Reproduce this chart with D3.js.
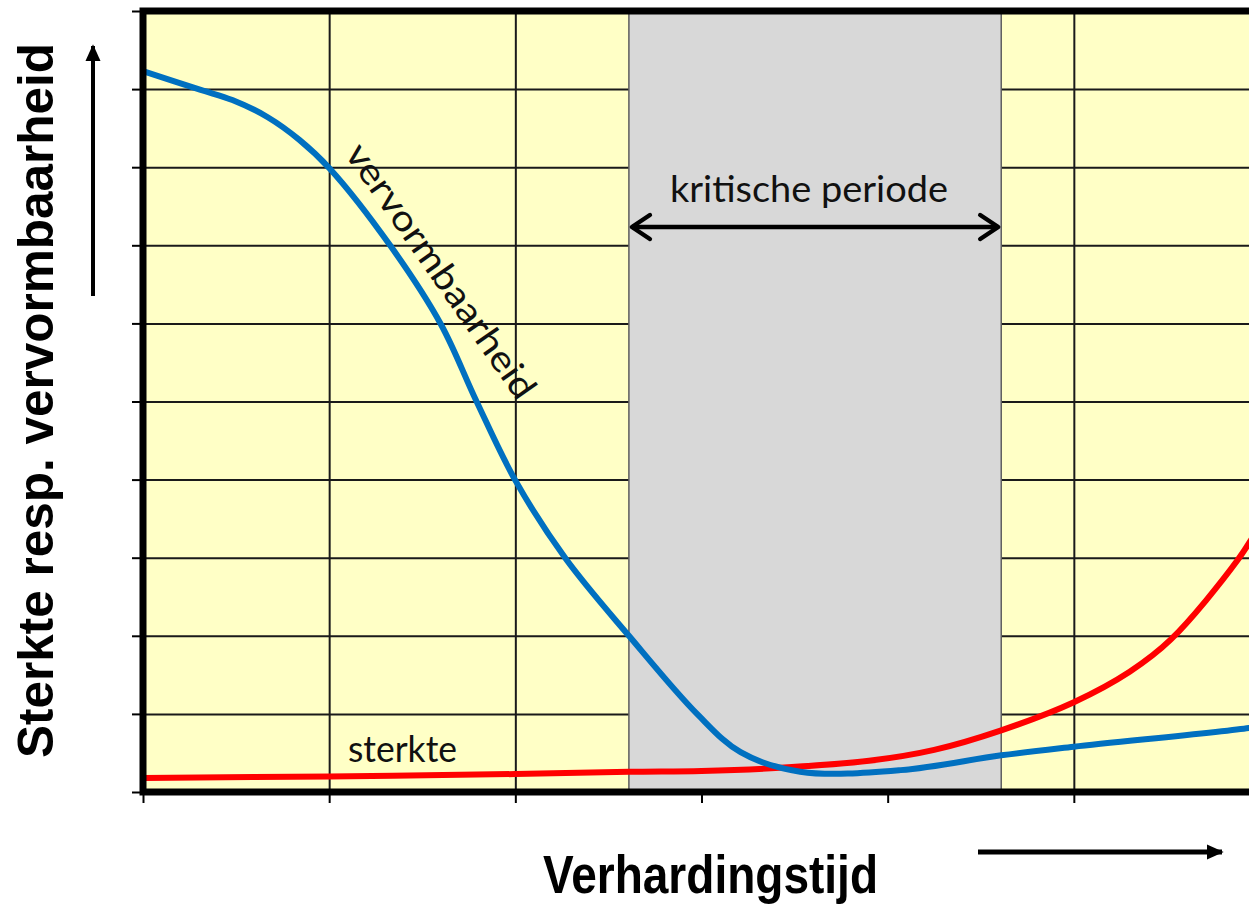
<!DOCTYPE html>
<html>
<head>
<meta charset="utf-8">
<script src="https://cdn.jsdelivr.net/npm/d3@7"></script>
<style>
  html, body { margin: 0; padding: 0; background: #fff; }
  svg { display: block; }
</style>
</head>
<body>
<svg id="chart" width="1249" height="906"></svg>
<script>
// ---- data (x: hardening time units 0..6, y: value units 0..10) ----
const xTicks = [0, 1, 2, 3, 4, 5, 6];
const yTicks = [0, 1, 2, 3, 4, 5, 6, 7, 8, 9, 10];
const criticalPeriod = [2.61, 4.61];

const vervormX = [0, 0.31, 0.48, 0.67, 0.84, 1.0, 1.33, 1.6, 1.79, 2.0, 2.27, 2.61, 2.98, 3.21, 3.53, 4.07, 4.61, 5.0, 5.94, 6.0];
const vervormY = [9.23, 8.99, 8.86, 8.64, 8.35, 7.99, 6.99, 5.99, 5.01, 3.99, 2.99, 2.0, 0.99, 0.51, 0.26, 0.28, 0.47, 0.58, 0.82, 0.85];

const sterkteX = [0, 1.0, 2.0, 2.61, 3.0, 3.42, 3.9, 4.25, 4.61, 5.0, 5.3, 5.52, 5.88, 6.0];
const sterkteY = [0.18, 0.2, 0.23, 0.26, 0.27, 0.31, 0.40, 0.54, 0.79, 1.15, 1.54, 1.95, 2.97, 3.42];

const labels = {
  yTitle: "Sterkte resp. vervormbaarheid",
  xTitle: "Verhardingstijd",
  period: "kritische periode",
  vervorm: "vervormbaarheid",
  sterkte: "sterkte"
};

// ---- drawing ----
const svg = d3.select("#chart");
const x = d3.scaleLinear().domain([0, 6]).range([143, 1260]);
const y = d3.scaleLinear().domain([0, 10]).range([792, 11]);
const [x0, x1] = x.range();
const [yb, yt] = y.range();

// plot background
svg.append("rect")
  .attr("x", x0).attr("y", yt).attr("width", x1 - x0).attr("height", yb - yt)
  .attr("fill", "#ffffc6");

// grid
svg.append("g")
  .attr("transform", `translate(0,${yb})`)
  .call(d3.axisBottom(x).tickValues(xTicks).tickSize(-(yb - yt)).tickFormat(""))
  .call(g => g.select(".domain").remove())
  .call(g => g.selectAll("line").attr("stroke", "#1a1a1a").attr("stroke-width", 2));
svg.append("g")
  .attr("transform", `translate(${x0},0)`)
  .call(d3.axisLeft(y).tickValues(yTicks).tickSize(-(x1 - x0)).tickFormat(""))
  .call(g => g.select(".domain").remove())
  .call(g => g.selectAll("line").attr("stroke", "#1a1a1a").attr("stroke-width", 2));

// critical period band
svg.append("rect")
  .attr("x", x(criticalPeriod[0])).attr("y", yt)
  .attr("width", x(criticalPeriod[1]) - x(criticalPeriod[0]))
  .attr("height", yb - yt)
  .attr("fill", "#d8d8d8")
  .attr("stroke", "#5e5e5e").attr("stroke-width", 1.5);

// curves
const line = d3.line().x(d => x(d[0])).y(d => y(d[1])).curve(d3.curveCatmullRom.alpha(0.5));
const sterkte = sterkteX.map((v, i) => [v, sterkteY[i]]);
const vervorm = vervormX.map((v, i) => [v, vervormY[i]]);
svg.append("path").datum(sterkte).attr("d", line)
  .attr("fill", "none").attr("stroke", "#ff0000").attr("stroke-width", 6);
svg.append("path").datum(vervorm).attr("d", line)
  .attr("fill", "none").attr("stroke", "#0070c0").attr("stroke-width", 6);

// thick frame (top, left, bottom)
svg.append("path")
  .attr("d", `M${x1 + 10},${yt} L${x0},${yt} L${x0},${yb} L${x1 + 10},${yb}`)
  .attr("fill", "none").attr("stroke", "#000").attr("stroke-width", 7);

// outer ticks
svg.append("g")
  .attr("transform", `translate(${x0 - 3},0)`)
  .call(d3.axisLeft(y).tickValues(yTicks).tickSize(8).tickFormat(""))
  .call(g => g.select(".domain").remove())
  .call(g => g.selectAll("line").attr("stroke", "#000").attr("stroke-width", 2));
svg.append("g")
  .attr("transform", `translate(0,${yb + 3})`)
  .call(d3.axisBottom(x).tickValues(xTicks).tickSize(8).tickFormat(""))
  .call(g => g.select(".domain").remove())
  .call(g => g.selectAll("line").attr("stroke", "#000").attr("stroke-width", 2));

// arrowheads
const defs = svg.append("defs");
defs.append("marker").attr("id", "solidHead")
  .attr("viewBox", "0 0 10 10").attr("refX", 9).attr("refY", 5)
  .attr("markerWidth", 17).attr("markerHeight", 17).attr("markerUnits", "userSpaceOnUse")
  .attr("orient", "auto")
  .append("path").attr("d", "M0,0.5 L10,5 L0,9.5 Z").attr("fill", "#000");

// y-direction arrow
svg.append("line")
  .attr("x1", 93).attr("y1", 296).attr("x2", 93).attr("y2", 46)
  .attr("stroke", "#000").attr("stroke-width", 4).attr("marker-end", "url(#solidHead)");
// x-direction arrow
svg.append("line")
  .attr("x1", 978).attr("y1", 852).attr("x2", 1222).attr("y2", 852)
  .attr("stroke", "#000").attr("stroke-width", 5).attr("marker-end", "url(#solidHead)");

// critical period double arrow
const ay = 227, axL = x(criticalPeriod[0]) + 1, axR = x(criticalPeriod[1]) - 1;
svg.append("line").attr("x1", axL + 2).attr("y1", ay).attr("x2", axR - 2).attr("y2", ay)
  .attr("stroke", "#000").attr("stroke-width", 4.5);
svg.append("path")
  .attr("d", `M${axL + 20},${ay - 12} L${axL + 2},${ay} L${axL + 20},${ay + 12}`)
  .attr("fill", "none").attr("stroke", "#000").attr("stroke-width", 4.5)
  .attr("stroke-linecap", "round").attr("stroke-linejoin", "round");
svg.append("path")
  .attr("d", `M${axR - 20},${ay - 12} L${axR - 2},${ay} L${axR - 20},${ay + 12}`)
  .attr("fill", "none").attr("stroke", "#000").attr("stroke-width", 4.5)
  .attr("stroke-linecap", "round").attr("stroke-linejoin", "round");

// texts
svg.append("text")
  .attr("transform", "translate(53,400.5) rotate(-90)")
  .attr("text-anchor", "middle")
  .attr("font-family", "'Liberation Sans', Arial, sans-serif")
  .attr("font-weight", "bold").attr("font-size", 50)
  .attr("textLength", 715).attr("lengthAdjust", "spacingAndGlyphs")
  .text(labels.yTitle);

svg.append("text")
  .attr("x", 710.5).attr("y", 893)
  .attr("text-anchor", "middle")
  .attr("font-family", "'Liberation Sans', Arial, sans-serif")
  .attr("font-weight", "bold").attr("font-size", 54)
  .attr("textLength", 335).attr("lengthAdjust", "spacingAndGlyphs")
  .text(labels.xTitle);

svg.append("text")
  .attr("x", 670).attr("y", 202)
  .attr("font-family", "Lato, 'Open Sans', sans-serif")
  .attr("font-size", 36)
  .attr("textLength", 278).attr("lengthAdjust", "spacingAndGlyphs")
  .attr("fill", "#111")
  .text(labels.period);

svg.append("text")
  .attr("x", 348).attr("y", 762)
  .attr("font-family", "Lato, 'Open Sans', sans-serif")
  .attr("font-size", 36)
  .attr("textLength", 109).attr("lengthAdjust", "spacingAndGlyphs")
  .attr("fill", "#111")
  .text(labels.sterkte);

svg.append("text")
  .attr("transform", "translate(344,154) rotate(55)")
  .attr("font-family", "Lato, 'Open Sans', sans-serif")
  .attr("font-size", 36)
  .attr("textLength", 303).attr("lengthAdjust", "spacingAndGlyphs")
  .attr("fill", "#111")
  .text(labels.vervorm);
</script>
</body>
</html>
